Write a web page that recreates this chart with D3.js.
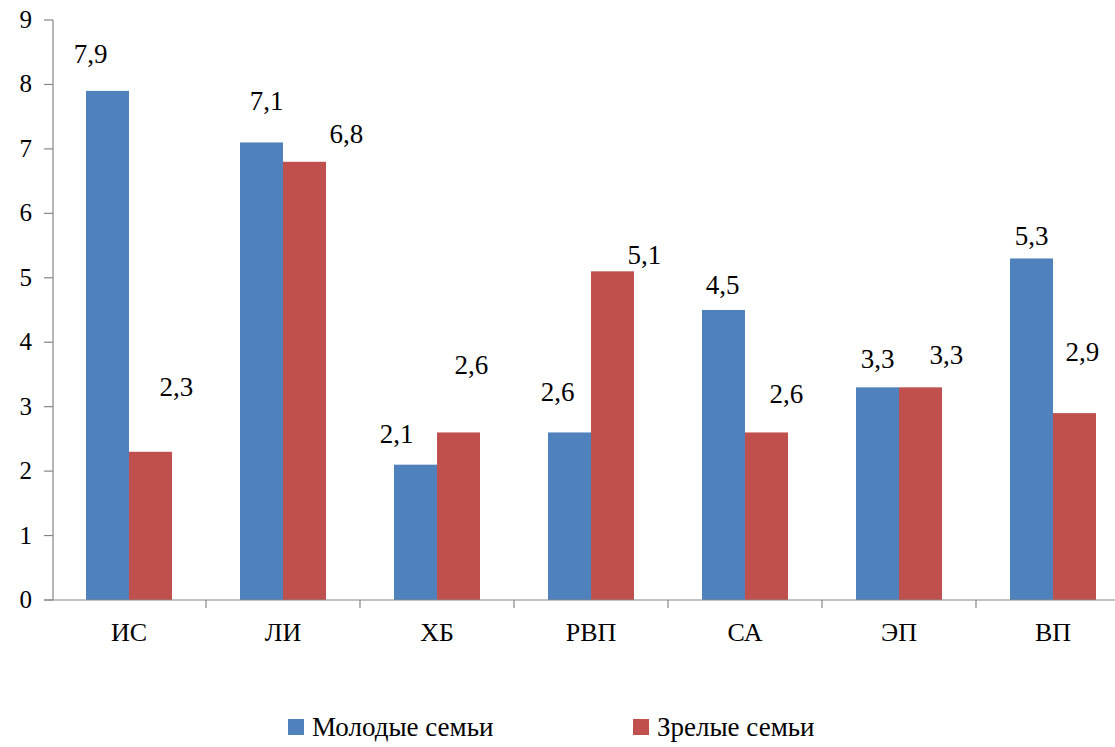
<!DOCTYPE html>
<html>
<head>
<meta charset="utf-8">
<script src="https://cdn.jsdelivr.net/npm/d3@7"></script>
<style>
  @font-face {
    font-family: 'ChartSerif';
    src: local('Liberation Serif'), local('LiberationSerif'), local('LiberationSerif-Regular'), local('Times New Roman'), local('Tinos');
  }
  html, body { margin: 0; padding: 0; background: #fff; font-family: 'Liberation Serif'; }
  svg, svg text { font-family: 'Liberation Serif', 'ChartSerif', 'Times New Roman', Tinos !important; }
</style>
</head>
<body>
<svg id="chart" width="1115" height="747" font-family="Liberation Serif"></svg>
<script>
// ---- data ----
const categories = ["ИС", "ЛИ", "ХБ", "РВП", "СА", "ЭП", "ВП"];
const seriesNames = ["Молодые семьи", "Зрелые семьи"];
const youngFamilies = [7.9, 7.1, 2.1, 2.6, 4.5, 3.3, 5.3];
const matureFamilies = [2.3, 6.8, 2.6, 5.1, 2.6, 3.3, 2.9];
const yTicks = [0, 1, 2, 3, 4, 5, 6, 7, 8, 9];

// manual label nudges (px, relative to top-centre of each bar)
const youngLabelDx = [-17, 5, -19, -12, -1, 0, 0];
const youngLabelDy = [-36, -41, -30, -40, -25, -28, -22];
const matureLabelDx = [26, 42, 13, 32, 20, 26, 8];
const matureLabelDy = [-64, -27, -67, -16, -38, -32, -61];

const colors = ["#4F81BD", "#C0504D"];
const axisColor = "#868686";

const svg = d3.select("#chart");

const y = d3.scaleLinear().domain([0, 9]).range([600, 20]);
const xb = d3.scaleBand().domain(categories).range([52, 1130]);          // category slots
const x0 = d3.scaleBand().domain(categories).range([52, 1130])
  .paddingInner(0.4416).paddingOuter(0.2208);                           // bar groups
const x1 = d3.scaleBand().domain([0, 1]).range([0, x0.bandwidth()]);

const values = [youngFamilies, matureFamilies];
const dxs = [youngLabelDx, matureLabelDx];
const dys = [youngLabelDy, matureLabelDy];

// bars
values.forEach((vals, s) => {
  svg.append("g").selectAll("rect")
    .data(vals)
    .join("rect")
    .attr("x", (d, i) => x0(categories[i]) + x1(s))
    .attr("y", d => y(d))
    .attr("width", x1.bandwidth())
    .attr("height", d => y(0) - y(d))
    .attr("fill", colors[s]);
});

// y axis
const yAxis = svg.append("g");
yAxis.append("line")
  .attr("x1", 53).attr("x2", 53).attr("y1", y(9)).attr("y2", y(0))
  .attr("stroke", axisColor).attr("stroke-width", 1.2);
yAxis.selectAll("line.tick").data(yTicks).join("line")
  .attr("class", "tick")
  .attr("x1", 44).attr("x2", 53)
  .attr("y1", d => y(d)).attr("y2", d => y(d))
  .attr("stroke", axisColor).attr("stroke-width", 1.2);
yAxis.selectAll("text").data(yTicks).join("text")
  .attr("x", 32)
  .attr("y", d => y(d) + 8)
  .attr("text-anchor", "end")
  .attr("font-family", "Liberation Serif")
  .style("font-size", "25px")
  .text(d => d);

// x axis
const xAxis = svg.append("g");
xAxis.append("line")
  .attr("x1", 44).attr("x2", 1130).attr("y1", y(0)).attr("y2", y(0))
  .attr("stroke", axisColor).attr("stroke-width", 1.2);
const boundaries = categories.map(c => xb(c)).concat([xb.range()[1]]);
xAxis.selectAll("line.tick").data(boundaries.slice(1)).join("line")
  .attr("class", "tick")
  .attr("x1", d => d).attr("x2", d => d)
  .attr("y1", y(0)).attr("y2", y(0) + 8)
  .attr("stroke", axisColor).attr("stroke-width", 1.2);
xAxis.selectAll("text").data(categories).join("text")
  .attr("x", d => xb(d) + xb.bandwidth() / 2)
  .attr("y", 641)
  .attr("text-anchor", "middle")
  .attr("font-family", "Liberation Serif")
  .style("font-size", "26px")
  .text(d => d);

// data labels
const fmt = v => d3.format(".1f")(v).replace(".", ",");
values.forEach((vals, s) => {
  svg.append("g").selectAll("text")
    .data(vals)
    .join("text")
    .attr("x", (d, i) => x0(categories[i]) + x1(s) + x1.bandwidth() / 2 + dxs[s][i])
    .attr("y", (d, i) => y(d) + dys[s][i] + 8.5)
    .attr("text-anchor", "middle")
    .attr("font-family", "Liberation Serif")
    .style("font-size", "27px")
    .text(d => fmt(d));
});

// legend
const legendX = [288, 633];
const legend = svg.append("g");
seriesNames.forEach((name, s) => {
  legend.append("rect")
    .attr("x", legendX[s]).attr("y", 719)
    .attr("width", 16).attr("height", 16)
    .attr("fill", colors[s]);
  legend.append("text")
    .attr("x", legendX[s] + 24)
    .attr("y", 736)
    .attr("font-family", "Liberation Serif")
    .style("font-size", "27px")
    .text(name);
});
</script>
</body>
</html>
